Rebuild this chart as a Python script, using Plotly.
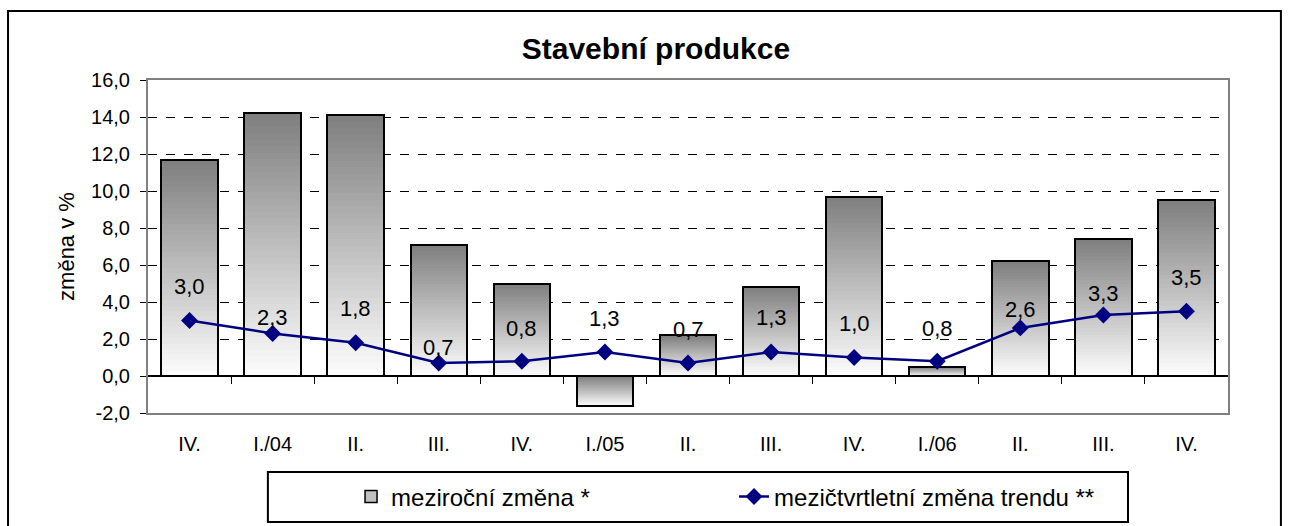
import plotly.graph_objects as go

# data
categories = ["IV.", "I./04", "II.", "III.", "IV.", "I./05", "II.", "III.", "IV.", "I./06", "II.", "III.", "IV."]
yoy_change = [11.7, 14.2, 14.1, 7.1, 5.0, -1.6, 2.2, 4.8, 9.7, 0.5, 6.2, 7.4, 9.5]
trend_change = [3.0, 2.3, 1.8, 0.7, 0.8, 1.3, 0.7, 1.3, 1.0, 0.8, 2.6, 3.3, 3.5]
y_ticks = [-2, 0, 2, 4, 6, 8, 10, 12, 14, 16]

# label offsets in px (labels were moved by hand in the original)
label_shift = [34, 16, 34, 16, 33, 33, 34, 34, 34, 33, 18, 21, 34]

FONT = "Liberation Sans, Arial, sans-serif"
xs = list(range(len(categories)))
bar_w = 0.68
steps = 40


def fmt(v):
    return f"{v:.1f}".replace(".", ",")


fig = go.Figure()

# gradient bars: stack of thin slices, white at bottom -> gray at top
lo = [min(0, v) for v in yoy_change]
hi = [max(0, v) for v in yoy_change]
for k in range(steps):
    t = k / (steps - 1)
    c = int(252 - (252 - 128) * t)
    fig.add_trace(go.Bar(
        x=xs,
        y=[(h - l) / steps for l, h in zip(lo, hi)],
        base=[l + (h - l) * k / steps for l, h in zip(lo, hi)],
        width=bar_w,
        marker=dict(color=f"rgb({c},{c},{c})", line=dict(width=0)),
        showlegend=False, hoverinfo="skip",
    ))

# outline
fig.add_trace(go.Bar(
    x=xs, y=yoy_change, width=bar_w,
    marker=dict(color="rgba(0,0,0,0)", line=dict(color="black", width=2)),
    showlegend=False, hoverinfo="skip",
))

# legend entry for the bars
fig.add_trace(go.Bar(
    x=[None], y=[None], name="meziroční změna *",
    marker=dict(color="#c0c0c0", line=dict(color="black", width=1.5)),
))

fig.add_trace(go.Scatter(
    x=xs, y=trend_change, mode="lines+markers",
    name="mezičtvrtletní změna trendu **",
    line=dict(color="#000080", width=2.5),
    marker=dict(symbol="diamond", size=13, color="#000080"),
))

# dummy trace for tick marks on the zero line
fig.add_trace(go.Scatter(x=[None], y=[None], xaxis="x2", showlegend=False))

for x, v, s in zip(xs, trend_change, label_shift):
    fig.add_annotation(
        x=x, y=v, text=fmt(v), showarrow=False,
        yshift=s, font=dict(family=FONT, size=22, color="black"),
    )

# outer frame and legend frame
fig.add_shape(type="rect", xref="paper", yref="paper",
              x0=-0.1296, x1=1.049, y0=-0.4, y1=1.207,
              line=dict(color="black", width=2))
fig.add_shape(type="rect", xref="paper", yref="paper",
              x0=0.111, x1=0.9074, y0=-0.327, y1=-0.177,
              line=dict(color="black", width=2))

fig.update_layout(
    width=1290, height=526,
    margin=dict(l=148, r=62, t=80, b=113, autoexpand=False),
    paper_bgcolor="white", plot_bgcolor="white",
    barmode="overlay",
    bargap=0,
    font=dict(family=FONT, size=20, color="black"),
    title=dict(text="<b>Stavební produkce</b>", x=0.5085, xanchor="center",
               y=0.9087, yanchor="middle", font=dict(size=30)),
    xaxis=dict(
        range=[-0.5, len(categories) - 0.5],
        tickvals=xs, ticktext=categories,
        ticks="", ticklabelstandoff=12,
        showgrid=False, zeroline=False,
        showline=True, mirror=True, linecolor="#808080", linewidth=2,
        tickfont=dict(size=20),
    ),
    xaxis2=dict(
        overlaying="x", anchor="free", position=2 / 18,
        range=[-0.5, len(categories) - 0.5],
        tickvals=[i + 0.5 for i in range(len(categories) - 1)],
        ticks="outside", ticklen=7, tickcolor="black", tickwidth=1,
        showticklabels=False, showgrid=False, zeroline=False, showline=False,
    ),
    yaxis=dict(
        range=[-2, 16], tickvals=y_ticks, ticktext=[fmt(v) for v in y_ticks],
        ticks="outside", ticklen=6, tickcolor="black", ticklabelstandoff=6,
        showgrid=True, gridcolor="black", griddash="dash", gridwidth=1,
        zeroline=True, zerolinecolor="black", zerolinewidth=2,
        showline=True, mirror=True, linecolor="#808080", linewidth=2,
        title=dict(text="změna v %", font=dict(size=22), standoff=10),
        tickfont=dict(size=20),
    ),
    legend=dict(
        orientation="h", x=0.188, xanchor="left", y=-0.252, yanchor="middle",
        font=dict(size=24), entrywidth=338, bgcolor="rgba(0,0,0,0)",
    ),
)

# drop the default 8px body margin so the figure fills the window exactly
fig.write_html("out.html", config={"displayModeBar": False},
               post_script="document.body.style.margin='0';")
